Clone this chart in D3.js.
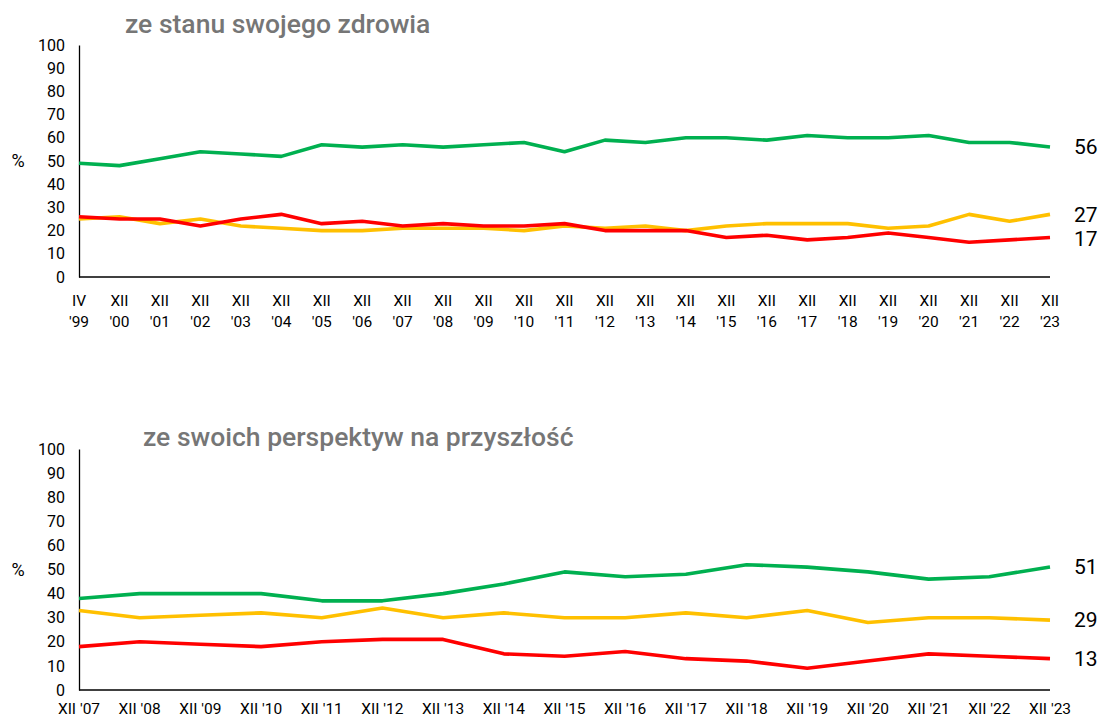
<!DOCTYPE html>
<html>
<head>
<meta charset="utf-8">
<script src="https://cdn.jsdelivr.net/npm/d3@7"></script>
<style>
  body { margin: 0; background: #fff; }
  svg { display: block; font-family: Roboto, "Noto Sans", sans-serif; }
</style>
</head>
<body>
<div id="chart"></div>
<script>
// chart 1: ze stanu swojego zdrowia
const healthLabels = [["IV", "'99"], ["XII", "'00"], ["XII", "'01"], ["XII", "'02"], ["XII", "'03"],
  ["XII", "'04"], ["XII", "'05"], ["XII", "'06"], ["XII", "'07"], ["XII", "'08"], ["XII", "'09"],
  ["XII", "'10"], ["XII", "'11"], ["XII", "'12"], ["XII", "'13"], ["XII", "'14"], ["XII", "'15"],
  ["XII", "'16"], ["XII", "'17"], ["XII", "'18"], ["XII", "'19"], ["XII", "'20"], ["XII", "'21"],
  ["XII", "'22"], ["XII", "'23"]];
const healthGreen = [49, 48, 51, 54, 53, 52, 57, 56, 57, 56, 57, 58, 54, 59, 58, 60, 60, 59, 61, 60, 60, 61, 58, 58, 56];
const healthYellow = [25, 26, 23, 25, 22, 21, 20, 20, 21, 21, 21, 20, 22, 21, 22, 20, 22, 23, 23, 23, 21, 22, 27, 24, 27];
const healthRed = [26, 25, 25, 22, 25, 27, 23, 24, 22, 23, 22, 22, 23, 20, 20, 20, 17, 18, 16, 17, 19, 17, 15, 16, 17];

// chart 2: ze swoich perspektyw na przyszłość
const futureLabels = ["XII '07", "XII '08", "XII '09", "XII '10", "XII '11", "XII '12", "XII '13", "XII '14",
  "XII '15", "XII '16", "XII '17", "XII '18", "XII '19", "XII '20", "XII '21", "XII '22", "XII '23"];
const futureGreen = [38, 40, 40, 40, 37, 37, 40, 44, 49, 47, 48, 52, 51, 49, 46, 47, 51];
const futureYellow = [33, 30, 31, 32, 30, 34, 30, 32, 30, 30, 32, 30, 33, 28, 30, 30, 29];
const futureRed = [18, 20, 19, 18, 20, 21, 21, 15, 14, 16, 13, 12, 9, 12, 15, 14, 13];

const yTicks = [0, 10, 20, 30, 40, 50, 60, 70, 80, 90, 100];
const colors = {green: "#00b050", yellow: "#ffc000", red: "#ff0000"};

const width = 1099, height = 718;
const svg = d3.select("#chart").append("svg")
  .attr("width", width)
  .attr("height", height);

const drawChart = (opts) => {
  const {title, titleX, titleY, labels, series, top, bottom, twoLine, labelY} = opts;
  const x = d3.scalePoint().domain(d3.range(labels.length)).range([79, 1050]);
  const y = d3.scaleLinear().domain([0, 100]).range([bottom, top]);
  const g = svg.append("g");

  g.append("text")
    .attr("x", titleX).attr("y", titleY)
    .attr("fill", "#767676")
    .attr("font-size", 26.5)
    .attr("font-weight", 500)
    .text(title);

  // y axis
  const yAxis = g.append("g")
    .attr("transform", "translate(79,0)")
    .call(d3.axisLeft(y).tickValues(yTicks).tickSize(0).tickPadding(14));
  yAxis.select(".domain").attr("stroke", "#000").attr("stroke-width", 1.3);
  yAxis.selectAll("text").attr("font-size", 16).attr("fill", "#000").attr("font-family", "Roboto");

  // baseline
  g.append("line")
    .attr("x1", 79).attr("x2", 1050)
    .attr("y1", y(0)).attr("y2", y(0))
    .attr("stroke", "#000").attr("stroke-width", 1.3);

  g.append("text")
    .attr("x", 18).attr("y", y(50))
    .attr("dy", "0.35em")
    .attr("text-anchor", "middle")
    .attr("font-size", 18)
    .text("%");

  // x labels
  const xl = g.selectAll("text.xl").data(labels).join("text")
    .attr("class", "xl")
    .attr("x", (d, i) => x(i))
    .attr("y", labelY)
    .attr("text-anchor", "middle")
    .attr("font-size", 15.5)
    .attr("fill", "#000");
  if (twoLine) {
    xl.each(function(d, i) {
      const t = d3.select(this);
      t.append("tspan").attr("x", x(i)).text(d[0]);
      t.append("tspan").attr("x", x(i)).attr("dy", 21).text(d[1]);
    });
  } else {
    xl.text(d => d);
  }

  const line = d3.line().x((d, i) => x(i)).y(d => y(d));
  series.forEach(s => {
    g.append("path")
      .datum(s.values)
      .attr("fill", "none")
      .attr("stroke", s.color)
      .attr("stroke-width", 3.6)
      .attr("stroke-linejoin", "round")
      .attr("d", line);
    g.append("text")
      .attr("x", 1074)
      .attr("y", y(s.values[s.values.length - 1]) + (s.dy || 0))
      .attr("dy", "0.35em")
      .attr("font-size", 21)
      .attr("fill", "#000")
      .text(s.values[s.values.length - 1]);
  });
};

drawChart({
  title: "ze stanu swojego zdrowia",
  titleX: 125, titleY: 33,
  labels: healthLabels,
  twoLine: true,
  labelY: 306,
  top: 45, bottom: 277,
  series: [
    {values: healthGreen, color: colors.green},
    {values: healthYellow, color: colors.yellow},
    {values: healthRed, color: colors.red, dy: 1}
  ]
});

drawChart({
  title: "ze swoich perspektyw na przyszłość",
  titleX: 143, titleY: 446,
  labels: futureLabels,
  twoLine: false,
  labelY: 714,
  top: 449, bottom: 690,
  series: [
    {values: futureGreen, color: colors.green},
    {values: futureYellow, color: colors.yellow},
    {values: futureRed, color: colors.red}
  ]
});
</script>
</body>
</html>
